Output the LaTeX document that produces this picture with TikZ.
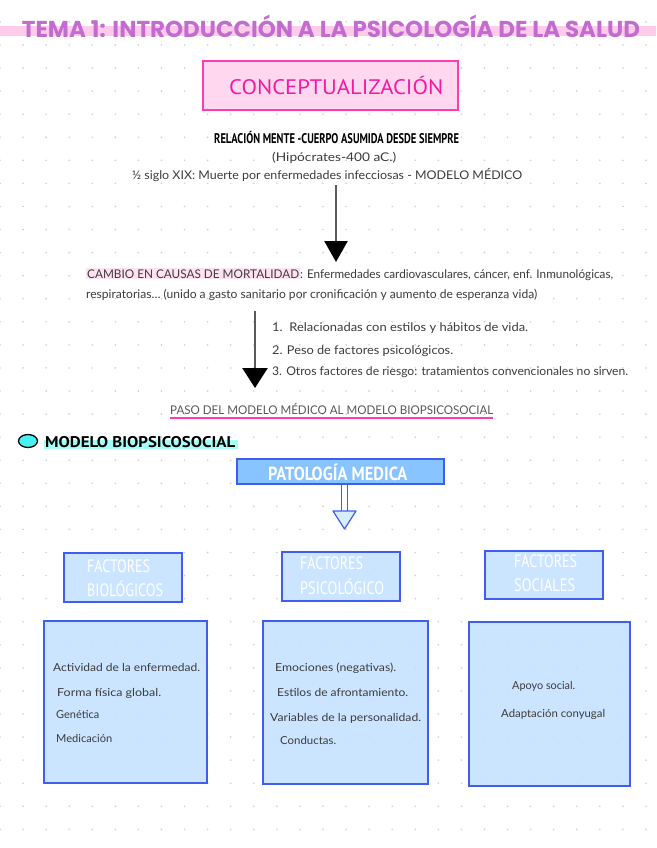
\documentclass[tikz,border=0pt]{standalone}
\usepackage{fontspec}
\usepackage{graphicx}
\setmainfont{Lato}
\newfontfamily\titlef{Poppins}
\newfontfamily\condf{PT Sans}
\newfontfamily\handf{Lato}
\usetikzlibrary{arrows.meta,fit}
\definecolor{titlepurple}{HTML}{C26CD0}
\definecolor{band}{HTML}{FFCBEA}
\definecolor{pinkfill}{HTML}{FFD8F0}
\definecolor{pinkline}{HTML}{FF3DB0}
\definecolor{pinktext}{HTML}{F21AA0}
\definecolor{pinkhl}{HTML}{FFE2F2}
\definecolor{bluefill}{HTML}{C6E2FF}
\definecolor{blueline}{HTML}{3F5EF0}
\definecolor{bluemid}{HTML}{88C4FF}
\definecolor{headfill}{HTML}{D8EEFF}
\definecolor{cyanfill}{HTML}{48F2F0}
\definecolor{cyanhl}{HTML}{A8FFF8}
\definecolor{ink}{HTML}{3C3C3C}
\definecolor{shaftgray}{HTML}{5A5A5A}
\definecolor{dotgray}{HTML}{CFCFCF}
\newcommand\fitw[2]{\resizebox{#1pt}{\height}{#2}}
\newcommand\hlpink[1]{{\setlength\fboxsep{1pt}\colorbox{pinkhl}{#1}}}
\begin{document}
\begin{tikzpicture}[x=1pt,y=-1pt,
  handt/.style={font=\handf\fontsize{12}{14}\selectfont, text=ink, inner sep=0pt, anchor=base west},
  smallt/.style={font=\handf\fontsize{11}{13}\selectfont, text=ink, inner sep=0pt, anchor=base west},
  boldt/.style={font=\condf\bfseries, inner sep=0pt, anchor=base west},
  factt/.style={font=\condf\fontsize{18}{18}\selectfont, text=white, inner sep=0pt, anchor=base west},
  bluebox/.style={draw=blueline, line width=1.4pt, fill=bluefill, fill opacity=0.9, inner sep=0pt},
  bigarrow/.style={line width=2.6pt, color=shaftgray}]
\useasboundingbox (0,0) rectangle (656,848);
\fill[white] (0,0) rectangle (656,848);
\foreach \i in {0,...,28}{\foreach \j in {0,...,35}{\fill[dotgray] ({23.07*\i},{21.9+23.07*\j}) circle (0.9);}}
% title
\fill[band] (0,26) rectangle (656,36);
\node[inner sep=0pt, anchor=base, text=titlepurple, font=\titlef\bfseries\fontsize{23}{23}\selectfont] (title) at (331,37.5) {\fitw{618}{TEMA 1: INTRODUCCIÓN A LA PSICOLOGÍA DE LA SALUD}};
% conceptualizacion
\node[draw=pinkline, fill=pinkfill, line width=1.6pt, inner sep=0pt, fit={(203,61) (458,110)}] (concept) {};
\node[inner sep=0pt, anchor=base west, text=pinktext, font=\condf\fontsize{21}{21}\selectfont] (conceptlabel) at (229,95) {\fitw{214}{CONCEPTUALIZACIÓN}};
% upper text
\node[boldt, font=\condf\bfseries\fontsize{14}{14}\selectfont, text=black] (relacion) at (214,143) {\fitw{245}{RELACIÓN MENTE -CUERPO ASUMIDA DESDE SIEMPRE}};
\node[handt] (hipo) at (272,161) {\fitw{124}{(Hipócrates-400 aC.)}};
\node[handt] (medico) at (132,179) {\fitw{390}{½ siglo XIX: Muerte por enfermedades infecciosas - MODELO MÉDICO}};
% arrow 1
\coordinate (a1top) at (336,185);
\coordinate (a1tip) at (336,262);
\draw[bigarrow, -{Triangle[width=23pt,length=21pt,color=black]}] (a1top) -- (a1tip);
% cambio
\node[handt] (cambio) at (86,278) {\fitw{527}{\hlpink{CAMBIO EN CAUSAS DE MORTALIDAD}: Enfermedades cardiovasculares, cáncer, enf. Inmunológicas,}};
\node[handt] (cambio2) at (86,298) {\fitw{451}{respiratorias… (unido a gasto sanitario por cronificación y aumento de esperanza vida)}};
% arrow 2
\coordinate (a2top) at (255,311);
\coordinate (a2tip) at (255,388);
\draw[bigarrow, -{Triangle[width=25pt,length=20pt,color=black]}] (a2top) -- (a2tip);
\node[handt] (l1) at (272,331) {\fitw{256}{1.\ \ Relacionadas con estilos y hábitos de vida.}};
\node[handt] (l2) at (272,354) {\fitw{181}{2. Peso de factores psicológicos.}};
\node[handt] (l3) at (272,375) {\fitw{356}{3. Otros factores de riesgo: tratamientos convencionales no sirven.}};
% paso
\node[handt, text=ink!85] (paso) at (170,414) {\fitw{323}{PASO DEL MODELO MÉDICO AL MODELO BIOPSICOSOCIAL}};
\draw[pinkline, line width=2pt] ([yshift=-3.5pt]paso.base west) -- ([yshift=-3.5pt]paso.base east);
% modelo biopsicosocial
\fill[cyanhl] (44,440) rectangle (238,449);
\draw[black, line width=1.3pt, fill=cyanfill] (28,441) ellipse (9.5 and 6.5);
\node[boldt, font=\condf\bfseries\fontsize{15.5}{15.5}\selectfont, text=black] (modelo) at (45,447.5) {\fitw{190}{MODELO BIOPSICOSOCIAL}};
% patologia
\node[draw=blueline, fill=bluemid, line width=1.4pt, inner sep=0pt, fit={(237,459) (444,484)}] (pato) {};
\node[boldt, font=\condf\bfseries\fontsize{19}{19}\selectfont, text=white] (patolabel) at (268,480) {\fitw{139}{PATOLOGÍA MEDICA}};
% hollow arrow
\coordinate (h1) at (344.5,484.5);
\coordinate (h2) at (344.5,512);
\draw[blueline, line width=1.2pt, double=white, double distance=4.8pt] (h1) -- (h2);
\draw[blueline, line width=1.2pt, fill=headfill, line join=round] (333,511) -- (356,511) -- (344.5,529) -- cycle;
% factor boxes
\node[bluebox, fit={(64,553) (182,602)}] (fbio) {};
\node[bluebox, fit={(282,552) (400,601)}] (fpsi) {};
\node[bluebox, fit={(485,551) (603,599)}] (fsoc) {};
\node[factt] (fb1) at (87,572) {\fitw{63}{FACTORES}};
\node[factt] (fb2) at (87,596) {\fitw{76}{BIOLÓGICOS}};
\node[factt] (fp1) at (300,569) {\fitw{63}{FACTORES}};
\node[factt] (fp2) at (300,594) {\fitw{84}{PSICOLÓGICO}};
\node[factt] (fs1) at (514,567) {\fitw{63}{FACTORES}};
\node[factt] (fs2) at (514,591) {\fitw{61}{SOCIALES}};
% content boxes
\node[bluebox, fit={(44,621) (207,783)}] (cbio) {};
\node[bluebox, fit={(263,621) (428,784)}] (cpsi) {};
\node[bluebox, fit={(469,622) (630,786)}] (csoc) {};
\node[smallt] (b1) at (53,671) {\fitw{147}{Actividad de la enfermedad.}};
\node[smallt] (b2) at (57,696) {\fitw{104}{Forma física global.}};
\node[smallt] (b3) at (56,718) {\fitw{43}{Genética}};
\node[smallt] (b4) at (56,742) {\fitw{56}{Medicación}};
\node[smallt] (p1) at (275,671) {\fitw{121}{Emociones (negativas).}};
\node[smallt] (p2) at (277,696) {\fitw{131}{Estilos de afrontamiento.}};
\node[smallt] (p3) at (270,721) {\fitw{151}{Variables de la personalidad.}};
\node[smallt] (p4) at (280,744) {\fitw{56}{Conductas.}};
\node[smallt] (s1) at (512,689) {\fitw{63}{Apoyo social.}};
\node[smallt] (s2) at (501,717) {\fitw{104}{Adaptación conyugal}};
\end{tikzpicture}
\end{document}
